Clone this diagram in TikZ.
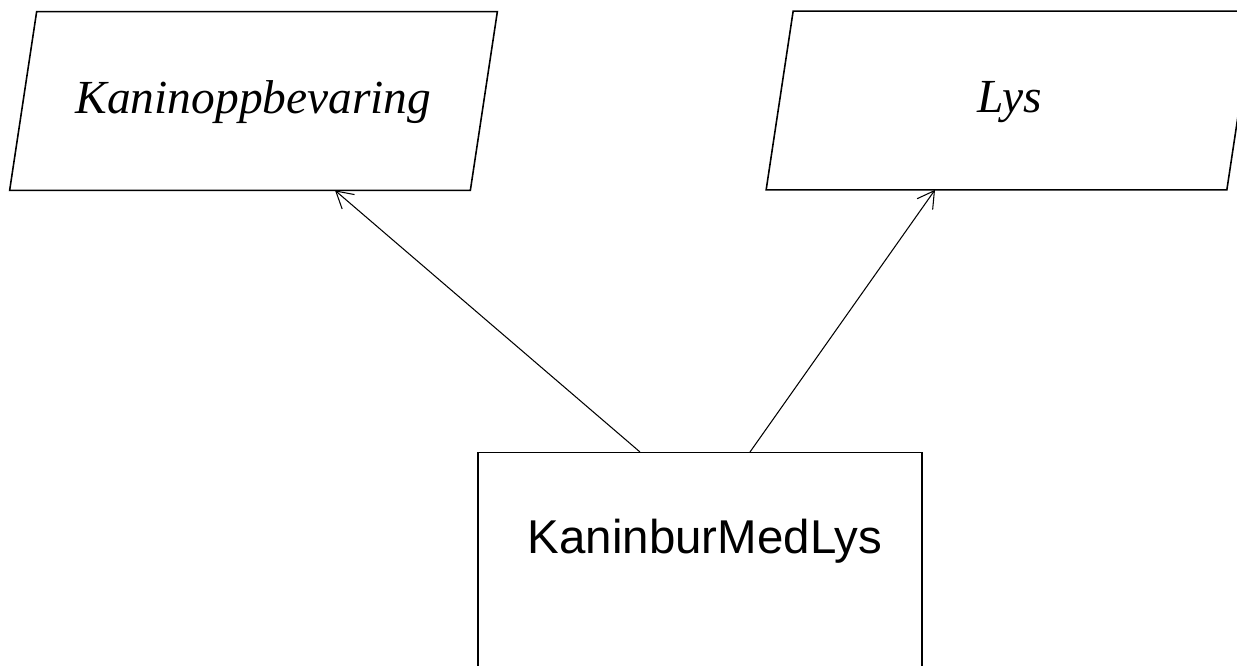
\documentclass[tikz,border=0pt]{standalone}
\usepackage{fontspec}
\setmainfont{Liberation Serif}
\newfontfamily\boxfont{Liberation Sans}
\usetikzlibrary{positioning,arrows.meta}

\begin{document}
\begin{tikzpicture}[
      iface/.style={rectangle,minimum width=9.2cm,minimum height=3.56cm,
        inner sep=0pt,font=\fontsize{27}{31}\selectfont\itshape},
      skew/.style={line width=0.9pt,line join=miter},
      klass/.style={draw,line width=0.8pt,rectangle,minimum width=8.88cm,inner sep=0pt,
        text height=2.02cm,text depth=6cm,font=\boxfont\fontsize{27}{32}\selectfont},
      arv/.style={line width=0.6pt,-{Straight Barb[length=3.3mm,width=3.8mm]}}]
    \useasboundingbox (0,0) rectangle (24.74,-13.32);
    \begin{scope}
      \clip (0,0) rectangle (24.74,-13.32);
      \node[iface] (kanin) at (5.07,-2.05) {Kaninoppbevaring};
      \node[iface] (lys)   at (20.2,-2.04) {Lys};
      \foreach \n in {kanin,lys}
        \draw[skew] ([xshift=0.27cm,yshift=0.03cm]\n.north west) -- ([xshift=0.27cm,yshift=0.03cm]\n.north east)
          -- ([xshift=-0.27cm,yshift=0.03cm]\n.south east) -- ([xshift=-0.27cm,yshift=0.03cm]\n.south west) -- cycle;
      \node[klass,anchor=north] (bur) at (14.0,-9.04) {\hspace{0.2cm}KaninburMedLys};
    \end{scope}

    \draw[arv] ([xshift=-1.2cm]bur.north) -- ([xshift=1.63cm,yshift=0.03cm]kanin.south);
    \draw[arv] ([xshift=1.0cm]bur.north) -- ([xshift=-1.5cm,yshift=0.03cm]lys.south);
  \end{tikzpicture}
\end{document}
